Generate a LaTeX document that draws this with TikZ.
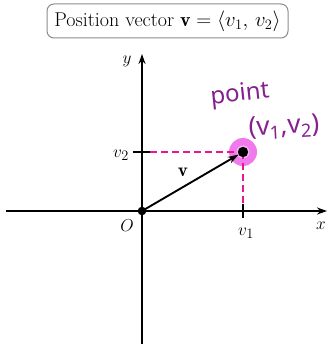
\documentclass[tikz,border=0pt]{standalone}
\usepackage{fontspec}
\newfontfamily\handfont{Noto Sans}
\usetikzlibrary{arrows.meta}
\definecolor{dashpink}{HTML}{E8168F}
\definecolor{glow}{HTML}{F07AEB}
\definecolor{hand}{HTML}{86208F}
\tikzset{
  axis/.style={line width=1.4pt, -{Stealth[length=10pt,width=7pt]}},
  guide/.style={dashpink, line width=1.3pt, dash pattern=on 7pt off 4pt},
  tick/.style={line width=1.3pt},
  lbl/.style={font=\fontsize{19}{22}\selectfont, inner sep=0pt},
  handtxt/.style={hand, font=\handfont\fontsize{24}{26}\selectfont, inner sep=0pt},
}
\begin{document}
\begin{tikzpicture}[x=1pt,y=-1pt]
\useasboundingbox (0,0) rectangle (328,347);
% title
\node[draw=black!45, line width=1pt, rounded corners=7pt, minimum width=241pt, minimum height=34pt,
  font=\fontsize{20}{24}\selectfont, inner sep=0pt] (title) at (167.5,21)
  {Position vector $\mathbf{v}=\langle v_1,\,v_2\rangle$};
% coordinates
\coordinate (O) at (142,211);
\coordinate (P) at (243,152);
\coordinate (xl) at (6,211);
\coordinate (xr) at (327,211);
\coordinate (yb) at (142,344);
\coordinate (yt) at (142,54);
\coordinate (v1t) at (243,204);
\coordinate (v1b) at (243,218);
\coordinate (v2l) at (133,152);
\coordinate (v2r) at (150,152);
% highlight
\fill[glow] (P) circle (14pt);
\fill[glow!55!white] (P) circle (6.5pt);
% guides
\draw[guide] (v2r) -- (P);
\draw[guide] (P) -- (v1t);
% axes
\draw[axis] (xl) -- (xr);
\draw[axis] (yb) -- (yt);
\draw[tick] (v1t) -- (v1b);
\draw[tick] (v2l) -- (v2r);
% vector
\draw[line width=1.9pt, -{Stealth[length=11pt,width=7pt]}, shorten >=5pt] (O) -- (P);
\fill (O) circle (4.3pt);
\fill (P) circle (5.2pt);
% labels
\node[lbl] (ylab) at (127,61) {$y$};
\node[lbl] (xlab) at (321,226) {$x$};
\node[lbl] (Olab) at (127,226) {$O$};
\node[lbl] (v1lab) at (246,233) {$v_1$};
\node[lbl] (v2lab) at (121,155) {$v_2$};
\node[lbl] (vlab) at (183,172) {$\mathbf{v}$};
% handwriting
\node[handtxt, rotate=6] (pt) at (240,95) {point};
\node[handtxt, font=\handfont\fontsize{26}{28}\selectfont, rotate=3] (pc) at (284,127) {(v\textsubscript{1},v\textsubscript{2})};
\end{tikzpicture}
\end{document}
